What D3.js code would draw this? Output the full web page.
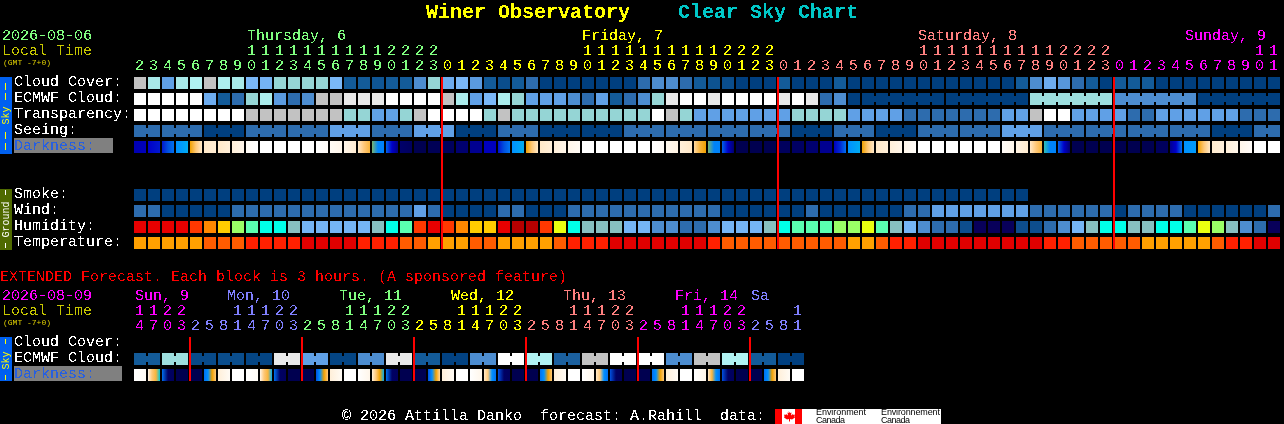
<!DOCTYPE html>
<html>
<head>
<meta charset="utf-8">
<script src="https://cdn.jsdelivr.net/npm/d3@7"></script>
<style>
  html, body { margin: 0; padding: 0; background: #000; overflow: hidden; }
  svg { display: block; }
  text { font-family: "Liberation Mono", monospace; font-size: 15px; white-space: pre; }
</style>
</head>
<body>
<div id="chart"></div>
<script>
// hourly columns
const hours = [2,3,4,5,6,7,8,9,10,11,12,13,14,15,16,17,18,19,20,21,22,23,
  0,1,2,3,4,5,6,7,8,9,10,11,12,13,14,15,16,17,18,19,20,21,22,23,
  0,1,2,3,4,5,6,7,8,9,10,11,12,13,14,15,16,17,18,19,20,21,22,23,
  0,1,2,3,4,5,6,7,8,9,10,11];
const hourDay = [0,0,0,0,0,0,0,0,0,0,0,0,0,0,0,0,0,0,0,0,0,0,
  1,1,1,1,1,1,1,1,1,1,1,1,1,1,1,1,1,1,1,1,1,1,1,1,
  2,2,2,2,2,2,2,2,2,2,2,2,2,2,2,2,2,2,2,2,2,2,2,2,
  3,3,3,3,3,3,3,3,3,3,3,3];
const dayLabels = ["Thursday, 6", "Friday, 7", "Saturday, 8", "Sunday, 9"];
const dayCols = [8.07, 32, 56, 75.07];
const dayColors = ["#80ff80", "#ffff00", "#ff8080", "#ff00ff"];

// sky rows, levels 0 (clear/dark blue) to 10 (white)
const cloudCover = [8,6.7,4,6.7,7,8,6.9,6.7,5,4.8,6,6,6,6,5,1,1,0.8,1,1,3,6,
  4.5,5,3.7,1,0.5,1,2,0,0,0,0,0,0,0,2,3,3,2,1,0.7,0.5,0,0,0,
  1,0,0,0,1,0,0,0,0,0,0,0,0,0,0,0,0,1,3,4.5,3.5,2,1,0,
  1,1,1,0,0,0,0,0,0,0,0,0];
const ecmwfCloud = [10,10,10,10,10,4.5,1,2,6,6.8,3.7,2,3,8,8,9,9,9,10,10,10,10,
  8,6.8,4,5,6.8,6,4,4,4,3,2,4,1,2,3,6,9,10,10,9,10,10,10,10,
  9,10,9,2,3,0,0,0,0,0,0,0,0,0,0,0,0,0,6.3,6.3,6.3,6.3,6.3,6.3,
  3,3,3,3,3,3,0,0,0,0,0,0];
const ecmwfBreaks = [52,58,64,70,76];
const transparency = [10,10,10,10,10,10,10,10,8,8,8,8,8,8,8,6,6,4,4,6,8,10,
  10,10,10,6,8,6,6,6,6,6,6,6,6,6,6,10,8,6,4,4,4,4,4,4,
  4,6,6,6,6,4,4,4,4,2,2,2,2,2,2,2,4,4,8,10,10,4,4,4,
  4,2,2,4,4,4,4,4,4,2,2,2];
const seeing = [2,2,2,2,2,0,0,0,2,2,2,2,2,2,4,4,4,2,2,2,4,4,
  4,0,0,0,2,2,2,0,0,0,0,0,0,2,2,2,2,2,2,2,2,2,2,2,
  2,0,0,0,2,2,2,0,0,0,2,2,2,2,2,2,4,4,4,2,2,2,2,2,
  2,2,2,2,2,2,2,0,0,0,2,2];
const seeingBreaks = [2,5,8,11,14,17,20,23,26,29,32,35,38,41,44,47,50,53,56,59,62,65,68,71,74,77,80];

// darkness: each block lists its levels left to right
const darkness = [[1.6,1.8],[2,2.3],[2.3,3,3.5],[4,4.2,4.5],[6,7,8],[8,8.3],[8,8.5],[8.5,9],[9.5,10],[10],[10],[10],[10],[10,9.7],
  [9.5,9],[9,8.3],[8,7,6.5],[5.5,3.8,3.8],[3.3,2,0.8],[0.4,0.2],[0],[0.1],
  [0.2],[0.5],[1],[1.8],[2.2,3,3.6],[4,4.5],[6,7,8],[8,8.5],[8.5,9],[9,9.5],[10],[10],[10],[10],[10],[10,9.6],[9.2,8.8],[8.5,8],[7.5,6.5,6],[5.5,3.8,3.8],[3.3,2,0.5],[0],[0],[0],
  [0.2],[0.3],[0.5],[1],[1.8,2.5,3.5],[4,4.5],[6,7,8],[8,8.5],[8.5,9],[9,9.7],[10],[10],[10],[10],[10],[10],[9.6,9],[8.8,8.2],[8,7,6.5],[5.2,3.8,3.8],[3.3,2,0.5],[0],[0],[0],
  [0],[0],[0],[0.2],[1,2,3.5],[4,4.2],[6,7,8],[8.2,8.6],[8.5,9],[9,9.7],[10],[10]];

// ground rows
const smoke = [0,0,0,0,0,0,0,0,0,0,0,0,0,0,0,0,0,0,0,0,0,0,
  0,0,0,0,0,0,0,0,0,0,0,0,0,0,0,0,0,0,0,0,0,0,0,0,
  0,0,0,0,0,0,0,0,0,0,0,0,0,0,0,0,0,0];
const wind = [2,2,0,0,0,0,0,2,2,2,2,2,2,2,2,2,2,2,2,2,4,2,
  0,0,0,0,2,2,0,0,0,2,2,2,2,2,2,2,2,2,2,2,0,0,0,0,
  0,0,2,0,0,0,0,0,0,2,2,4,4,4,4,4,4,4,2,2,2,2,2,2,
  0,2,2,2,2,0,0,0,0,0,0,2];
const humidity = [13,13,13,13,12,11,10,8,7,6,6,5,4,4,4,4,4,5,6,7,12,13,
  12,11,10,10,13,14,14,12,9,6,5,5,5,4,4,3,3,2,2,3,4,4,4,5,
  6,7,7,7,8,8,9,7,5,4,3,2,2,1,0,0,0,1,1,2,3,4,5,6,
  6,5,5,6,6,7,9,8,5,3,2,0];
const temperature = [3,3,3,3,3,2,2,2,1,1,1,1,0,0,0,0,1,1,1,2,2,3,
  3,3,2,2,3,3,3,3,2,1,1,1,0,0,0,0,0,0,0,1,2,2,2,2,
  2,2,2,2,2,3,3,2,1,1,0,0,0,0,0,0,0,0,0,1,1,2,2,2,
  2,2,3,3,3,3,3,2,1,1,0,0];
const midnights = [22, 46, 70];

// extended forecast, 3 hour blocks
const extHours = [14,17,20,23,2,5,8,11,14,17,20,23,2,5,8,11,14,17,20,23,2,5,8,11,14,17,20,23,
  2,5,8,11,14,17,20,23,2,5,8,11,14,17,20,23,2,5,8,11];
const extDay = [0,0,0,0,1,1,1,1,1,1,1,1,2,2,2,2,2,2,2,2,3,3,3,3,3,3,3,3,
  4,4,4,4,4,4,4,4,5,5,5,5,5,5,5,5,6,6,6,6];
const extLabels = ["Sun, 9", "Mon, 10", "Tue, 11", "Wed, 12", "Thu, 13", "Fri, 14", "Sa"];
const extCols = [0.07, 6.64, 14.64, 22.64, 30.64, 38.64, 44.07];
const extColors = ["#ff00ff", "#8080ff", "#80ff80", "#ffff00", "#ff8080", "#ff00ff", "#8080ff"];
const extEcmwf = [1,1,6.3,6.3,0.4,0.4,0.5,0.5,0.2,0.2,9,9,4,4,0.2,0.2,3,3,9,9,1,1,0.1,0.1,
  3,3,10,10,7,7,1.3,1.3,8,8,10,10,10,10,3,3,8,8,7,7,1,1,0,0];
const extDarkness = [[10,9.5],[9,7,6.5,5],[3.5,0.3,0.2],[0],[0],[3.5,4,6,7],[8.5,9.5],[10],
  [10,9.5],[9,7,6.5,4.5],[3.5,0.3,0.2],[0],[0],[3,4,6,7],[8.5,9.5],[10],
  [10,9],[8.5,7,6,4.5],[3.5,0.3,0.2],[0],[0],[3,4,6,7.5],[8.5,9.5],[10],
  [10,9],[8,7,4,3.5],[3,0.3,0.2],[0],[0],[3.5,4,6,7],[8.5,9.5],[10],
  [10,9],[8,7,4,3.5],[3,0.3,0.2],[0],[0],[3.5,4,6,7],[8.5,9.5],[10],
  [10,9],[8,6.5,4,3.5],[3,0.3,0.2],[0],[0],[3.5,4,6,7],[8.5,9.5],[10]];

const skyRowNames = ["Cloud Cover:", "ECMWF Cloud:", "Transparency:", "Seeing:"];
const groundRowNames = ["Smoke:", "Wind:", "Humidity:", "Temperature:"];

const width = 1284;
const height = 424;
const cell = 12;
const pitch = 14;
const left = 134;

const skyColor = d3.scaleLinear()
  .domain(d3.range(11))
  .range(["#003f7f", "#135b99", "#2d6cae", "#4d8dd0", "#60a0e6", "#7ab8f8", "#95d5d5", "#b0f2f2", "#c2c2c2", "#e9e9e9", "#ffffff"]);
const darkColor = d3.scaleLinear()
  .domain(d3.range(11))
  .range(["#000050", "#000090", "#0000c8", "#0050e0", "#0090ff", "#00c8e0", "#f0a000", "#ffc878", "#ffe8c8", "#fff6ea", "#ffffff"]);
const humidityColor = d3.scaleOrdinal()
  .domain(d3.range(15))
  .range(["#08005a", "#0d4d8d", "#2d6cae", "#4d8dd0", "#75b5f5", "#87c0c0", "#00ffe8", "#5affb0", "#9aff66", "#eaff10", "#ffcc00", "#ff8800", "#ff3800", "#e80000", "#b80000"]);
const temperatureColor = d3.scaleOrdinal()
  .domain(d3.range(4))
  .range(["#e00000", "#ff2000", "#ff5c00", "#ffa000"]);

const svg = d3.select("#chart").append("svg")
  .attr("width", width)
  .attr("height", height)
  .attr("viewBox", `0 0 ${width} ${height}`)
  .style("background", "#000");
const defs = svg.append("defs");

// thresholds the text edges so it reads like the bitmap font
const crisp = defs.append("filter")
  .attr("id", "crisp")
  .attr("filterUnits", "userSpaceOnUse")
  .attr("x", 0).attr("y", 0).attr("width", width).attr("height", height)
  .attr("color-interpolation-filters", "sRGB");
crisp.append("feComponentTransfer").append("feFuncA")
  .attr("type", "discrete").attr("tableValues", "0 1");

const marks = svg.append("g");
const labels = svg.append("g").attr("filter", "url(#crisp)");
const smallLabels = svg.append("g");

const x = d3.scaleBand().domain(d3.range(hours.length)).range([left, left + hours.length * pitch - 2]).paddingInner(2 / pitch);
const xExt = d3.scaleBand().domain(d3.range(extHours.length)).range([left, left + extHours.length * pitch - 2]).paddingInner(2 / pitch);
const colX = d3.scaleLinear().domain([0, 1]).range([left, left + pitch]);
const yMain = d3.scaleLinear().domain([0, 1]).range([77, 93]);
const yExt = d3.scaleLinear().domain([0, 1]).range([337, 353]);
const yGround = d3.scaleLinear().domain([0, 1]).range([189, 205]);

function drawBlocks(values, band, top, color, breaks) {
  const g = marks.append("g");
  g.selectAll("rect.block")
    .data(values)
    .join("rect")
    .attr("class", "block")
    .attr("x", (d, i) => band(i))
    .attr("y", top)
    .attr("width", band.bandwidth())
    .attr("height", cell)
    .attr("fill", (d) => color(d));
  if (!breaks) {
    return;
  }
  // joined runs get a narrow bridge over the gap
  const first = breaks[0];
  const bridged = values
    .map((d, i) => ({ d, i }))
    .filter((c) => c.i < values.length - 1 && !breaks.includes(c.i + 1) && (first === 2 || c.i >= first));
  g.selectAll("rect.bridge")
    .data(bridged)
    .join("rect")
    .attr("class", "bridge")
    .attr("x", (c) => band(c.i) + cell)
    .attr("y", top + 3)
    .attr("width", pitch - cell)
    .attr("height", cell / 2)
    .attr("fill", (c) => color(c.d));
}

function drawDarkness(values, band, top, prefix) {
  values.forEach((stops, i) => {
    if (stops.length > 1) {
      const grad = defs.append("linearGradient").attr("id", `${prefix}${i}`);
      grad.selectAll("stop")
        .data(stops)
        .join("stop")
        .attr("offset", (d, k) => k / (stops.length - 1))
        .attr("stop-color", (d) => darkColor(d));
    }
  });
  marks.append("g").selectAll("rect")
    .data(values)
    .join("rect")
    .attr("x", (d, i) => band(i))
    .attr("y", top)
    .attr("width", band.bandwidth())
    .attr("height", cell)
    .attr("fill", (d, i) => (d.length > 1 ? `url(#${prefix}${i})` : darkColor(d[0])));
}

function drawMidnights(cols, band, y0, y1) {
  marks.append("g").selectAll("rect")
    .data(cols)
    .join("rect")
    .attr("x", (d) => band(d) - 1)
    .attr("y", y0)
    .attr("width", 2)
    .attr("height", y1 - y0)
    .attr("fill", "#ff0000");
}

function drawHourAxis(band, dayOf, colors, y, format) {
  const axis = d3.axisTop(band).tickSize(0).tickPadding(0).offset(0).tickFormat(format);
  const g = labels.append("g").attr("transform", `translate(0, ${y})`).call(axis);
  g.select(".domain").remove();
  g.attr("font-family", null).attr("font-size", null);
  g.selectAll("text")
    .attr("x", -0.5)
    .attr("y", 0)
    .attr("dy", 0)
    .attr("fill", (i) => colors[dayOf[i]]);
}

function label(text, px, py, color, extra, layer = labels) {
  const t = layer.append("text").attr("x", px).attr("y", py).attr("fill", color).text(text);
  if (extra) {
    extra(t);
  }
  return t;
}

function sideBar(y0, y1, fill, name, nameY, ink, dashes) {
  marks.append("rect").attr("x", 0).attr("y", y0).attr("width", 12).attr("height", y1 - y0).attr("fill", fill);
  marks.append("g").selectAll("line")
    .data(dashes)
    .join("line")
    .attr("x1", 5.5).attr("x2", 5.5)
    .attr("y1", (d) => d[0]).attr("y2", (d) => d[1])
    .attr("stroke", ink);
  smallLabels.append("text")
    .attr("transform", `translate(9, ${nameY}) rotate(-90)`)
    .attr("text-anchor", "middle")
    .attr("fill", ink)
    .style("font-size", "10px")
    .text(name);
}

function gmtNote(py) {
  label("(GMT -7+0)", 3, py, "#e0d000", (t) => t.style("font-size", "8px"), smallLabels);
}

const titleStyle = (t) => t.style("font-size", "20px").style("font-weight", "bold");
const logoStyle = (length) => (t) => t
  .style("font-family", "'Liberation Sans', sans-serif")
  .style("font-size", "9px")
  .attr("textLength", length);

// title
label("Winer Observatory", 426, 18, "#ffff00", titleStyle);
label("Clear Sky Chart", 678, 18, "#00c8c8", titleStyle);

// main chart
label("2026-08-06", 2, 40, "#80ff80");
label("Local Time", 2, 55, "#c8c800");
gmtNote(65);
dayLabels.forEach((d, i) => label(d, Math.round(colX(dayCols[i])), 40, dayColors[i]));
drawHourAxis(x, hourDay, dayColors, 55, (i) => (hours[i] >= 10 ? Math.floor(hours[i] / 10) : ""));
drawHourAxis(x, hourDay, dayColors, 70, (i) => hours[i] % 10);

sideBar(77, 154, "#0060f0", "Sky", 115.5, "#ffff00", [[83, 90], [93, 100], [132, 139], [143, 150]]);
sideBar(189, 250, "#4f6a00", "Ground", 219.5, "#ffffff", [[190, 195], [243, 248]]);

skyRowNames.forEach((d, i) => label(d, 14, yMain(i) + 9, "#ffffff"));
groundRowNames.forEach((d, i) => label(d, 14, yGround(i) + 9, "#ffffff"));
marks.append("rect").attr("x", 14).attr("y", 138).attr("width", 99).attr("height", 15).attr("fill", "#808080");
label("Darkness:", 14, yMain(4) + 9, "#2860e0");

drawBlocks(cloudCover, x, yMain(0), skyColor);
drawBlocks(ecmwfCloud, x, yMain(1), skyColor, ecmwfBreaks);
drawBlocks(transparency, x, yMain(2), skyColor);
drawBlocks(seeing, x, yMain(3), skyColor, seeingBreaks);
drawDarkness(darkness, x, yMain(4), "dark");
drawBlocks(smoke, x, yGround(0), skyColor);
drawBlocks(wind, x, yGround(1), skyColor);
drawBlocks(humidity, x, yGround(2), humidityColor);
drawBlocks(temperature, x, yGround(3), temperatureColor);
drawMidnights(midnights, x, 77, 249);

// extended forecast
label("EXTENDED Forecast. Each block is 3 hours. (A sponsored feature)", 0, 281, "#ff0000");
label("2026-08-09", 2, 300, "#ff00ff");
label("Local Time", 2, 315, "#c8c800");
gmtNote(325);
extLabels.forEach((d, i) => label(d, Math.round(colX(extCols[i])), 300, extColors[i]));
drawHourAxis(xExt, extDay, extColors, 315, (i) => (extHours[i] >= 10 ? Math.floor(extHours[i] / 10) : ""));
drawHourAxis(xExt, extDay, extColors, 330, (i) => extHours[i] % 10);

sideBar(337, 381, "#0060f0", "Sky", 360.5, "#ffff00", [[339, 344], [375, 380]]);
label("Cloud Cover:", 14, yExt(0) + 9, "#ffffff");
label("ECMWF Cloud:", 14, yExt(1) + 9, "#ffffff");
marks.append("rect").attr("x", 14).attr("y", 366).attr("width", 108).attr("height", 15).attr("fill", "#808080");
label("Darkness:", 14, yExt(2) + 9, "#2860e0");

const extBreaks = extHours.map((d, i) => i).filter((i) => i % 2 === 0 && i > 0);
drawBlocks(extEcmwf, xExt, yExt(1), skyColor, [2, ...extBreaks.slice(1)]);
drawDarkness(extDarkness, xExt, yExt(2), "extdark");
drawMidnights(extBreaks.filter((i) => (i - 4) % 8 === 0), xExt, 337, 381);

// footer
label("\u00a9 2026 Attilla Danko  forecast: A.Rahill  data:", 342, 420, "#ffffff");
marks.append("rect").attr("x", 775).attr("y", 409).attr("width", 166).attr("height", 15).attr("fill", "#ffffff");
marks.append("rect").attr("x", 775).attr("y", 409).attr("width", 7).attr("height", 15).attr("fill", "#ff0000");
marks.append("rect").attr("x", 795).attr("y", 409).attr("width", 7).attr("height", 15).attr("fill", "#ff0000");
marks.append("path")
  .attr("d", "M788.5 411l1.5 2 1.5-.5-.5 3 2-1.5.5 1 1.5-.5-.5 2 .5 1-3 2-2-.5v2.5h-1v-2.5l-2 .5-3-2 .5-1-.5-2 1.5.5.5-1 2 1.5-.5-3 1.5.5z")
  .attr("fill", "#ff0000");
[["Environment", 816, 50], ["Environnement", 881, 59]].forEach(([t, px, len]) => {
  label(t, px, 415, "#000000", logoStyle(len), smallLabels);
  label("Canada", px, 423, "#000000", logoStyle(29), smallLabels);
});
</script>
</body>
</html>
